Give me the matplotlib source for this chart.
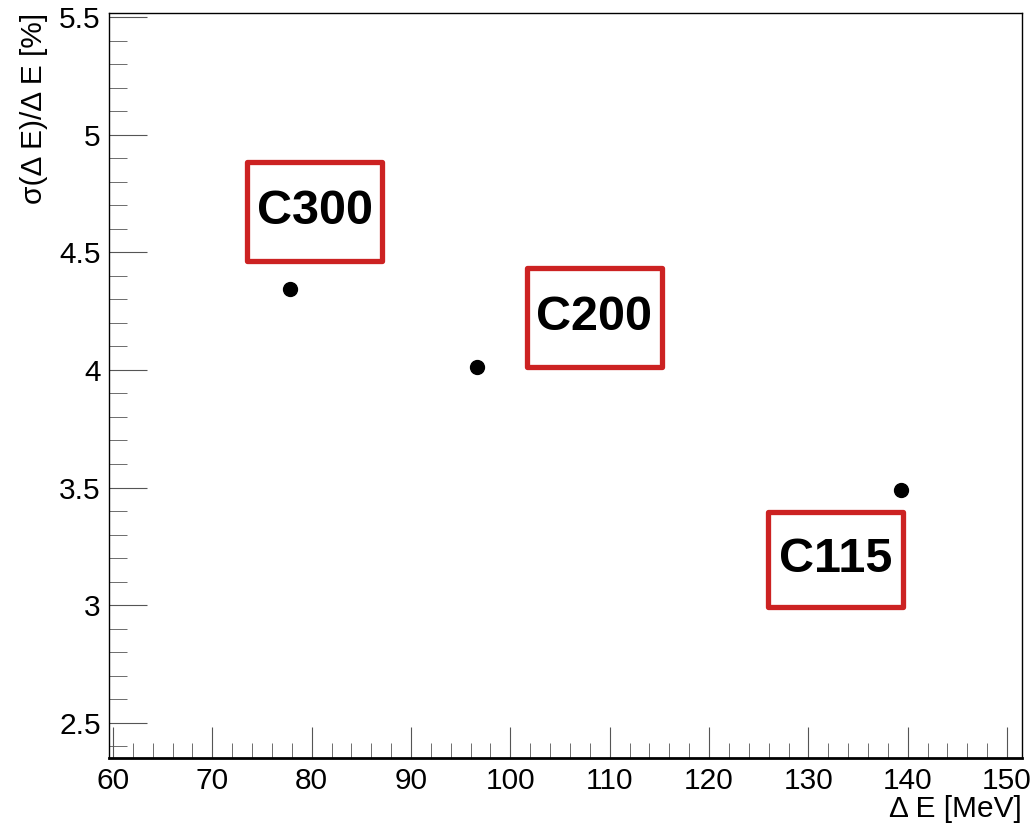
import matplotlib.pyplot as plt
from matplotlib.patches import Rectangle
from matplotlib.ticker import MultipleLocator

plt.rcParams['font.family'] = ['Liberation Sans', 'DejaVu Sans']

# measured points
delta_e = [77.8, 96.6, 139.3]
resolution = [4.345, 4.012, 3.489]
names = ['C300', 'C200', 'C115']

# label boxes: (x0, y0, width, height) in data units
boxes = [(73.5, 4.463, 13.6, 0.421),
         (101.65, 4.012, 13.6, 0.421),
         (125.9, 2.991, 13.6, 0.404)]

fig = plt.figure(figsize=(10.35, 8.27), dpi=100)
ax = fig.add_axes([0.1053, 0.0838, 0.8821, 0.9005])

ax.plot(delta_e, resolution, 'o', color='black', ms=10, ls='none')

for name, (x0, y0, w, h) in zip(names, boxes):
    ax.add_patch(Rectangle((x0, y0), w, h, fill=False, ec='#cc2222', lw=3.8, joinstyle='round'))
    ax.text(x0 + w / 2, y0 + h / 2, name, ha='center', va='center',
            fontsize=35, fontweight='bold', color='black')

ax.set_xlim(59.6, 151.5)
ax.set_ylim(2.351, 5.518)

ax.xaxis.set_major_locator(MultipleLocator(10))
ax.xaxis.set_minor_locator(MultipleLocator(2))
ax.yaxis.set_major_locator(MultipleLocator(0.5))
ax.yaxis.set_minor_locator(MultipleLocator(0.1))
ax.set_yticks([2.5, 3, 3.5, 4, 4.5, 5, 5.5])
ax.set_yticklabels(['2.5', '3', '3.5', '4', '4.5', '5', '5.5'])

ax.tick_params(which='both', direction='in', top=False, right=False,
               labelsize=21.5, color='#555555')
ax.tick_params(axis='x', which='major', length=22, pad=7)
ax.tick_params(axis='x', which='minor', length=11)
ax.tick_params(axis='y', which='major', length=27, pad=6)
ax.tick_params(axis='y', which='minor', length=13)

for s in ax.spines.values():
    s.set_linewidth(1.0)
ax.spines['bottom'].set_linewidth(2)

ax.set_xlabel('Δ E [MeV]', fontsize=21.5, loc='right', labelpad=0)
ax.set_ylabel('σ(Δ E)/Δ E [%]', fontsize=21.5, loc='top', labelpad=8)

fig.savefig('out.png', dpi=100)
